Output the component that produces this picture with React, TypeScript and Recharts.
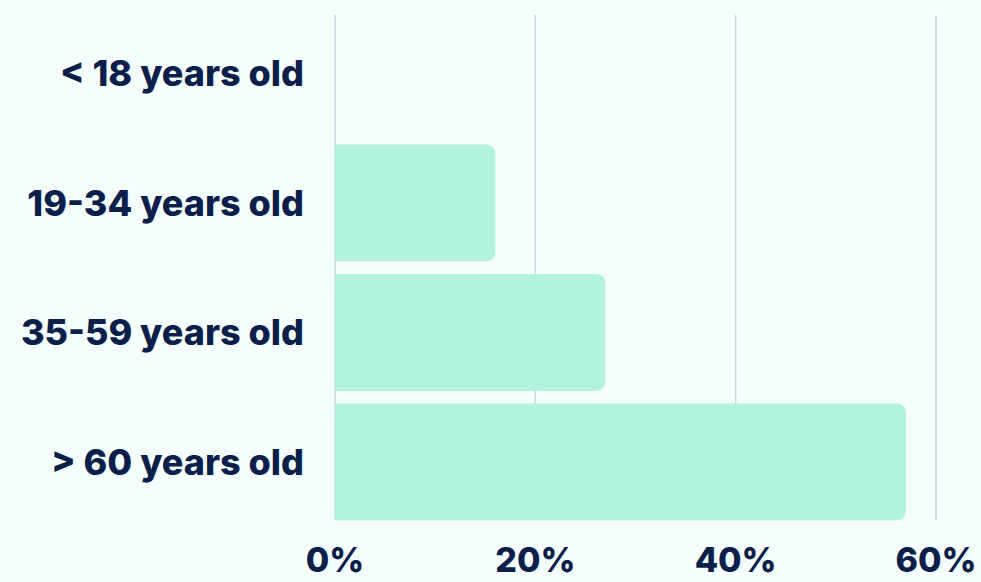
import React from "react";
import { BarChart, Bar, XAxis, YAxis, CartesianGrid } from "recharts";

const ageGroups = ["< 18 years old", "19-34 years old", "35-59 years old", "> 60 years old"];
const shares = [0, 16, 27, 57];
const xTicks = [0, 20, 40, 60];

const data = ageGroups.map((group, i) => ({ group, share: shares[i] }));

const navy = "#0b1f4a";
const font = "Inter, 'Noto Sans', sans-serif";

export default function App() {
  return (
    <div style={{ position: "fixed", inset: 0, background: "#f3fefd" }}>
      <BarChart
        width={981}
        height={582}
        layout="vertical"
        data={data}
        margin={{ top: 15, right: 45, left: 0, bottom: 0 }}
        barCategoryGap="5%"
      >
        <CartesianGrid horizontal={false} stroke="#c9d6dd" strokeWidth={1.5} />
        <XAxis
          type="number"
          domain={[0, 60]}
          ticks={xTicks}
          tickFormatter={(v) => `${v}%`}
          axisLine={false}
          tickLine={false}
          tickSize={0}
          tickMargin={28}
          height={62}
          tick={{ fill: navy, fontSize: 34, fontWeight: 800, fontFamily: font }}
        />
        <YAxis
          type="category"
          dataKey="group"
          width={335}
          axisLine={false}
          tickLine={false}
          tickSize={0}
          tickMargin={31}
          padding={{ top: -6.5, bottom: -6.5 }}
          tick={{ fill: navy, fontSize: 36, fontWeight: 800, fontFamily: font }}
        />
        <Bar dataKey="share" fill="#b3f2db" radius={[0, 9, 9, 0]} isAnimationActive={false} />
      </BarChart>
    </div>
  );
}
